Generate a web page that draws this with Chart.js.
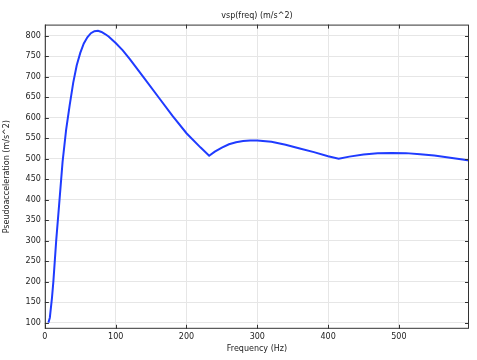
<!DOCTYPE html>
<html>
<head>
<meta charset="utf-8">
<script src="https://cdn.jsdelivr.net/npm/chart.js@4.4.1/dist/chart.umd.min.js"></script>
<style>
  html, body { margin: 0; padding: 0; background: #fff; }
  #wrap { width: 477px; height: 360px; }
</style>
</head>
<body>
<div id="wrap"><canvas id="vspChart"></canvas></div>
<script>
        // Values
        const freq = [5, 7, 10, 12, 16, 20, 25, 30, 35, 40, 45, 50, 55, 60, 65, 70, 75, 80, 85, 90, 100, 110, 120, 140, 160, 180, 200, 220, 232, 240, 250, 260, 270, 280, 290, 300, 320, 340, 360, 380, 400, 415, 430, 450, 470, 490, 510, 530, 550, 570, 590, 600];
        const vsp = [100, 112, 160, 200, 300, 385, 492, 570, 630, 685, 728, 758, 781, 796, 806, 811, 812, 809, 804, 798, 782, 764, 743, 697, 651, 605, 562, 527, 507, 517, 527, 535, 540, 543, 544.5, 544.5, 541, 534, 525, 516, 506, 500, 505, 510, 513, 514, 513.5, 511, 507.5, 503, 498, 495];

        const xTicks = [0, 100, 200, 300, 400, 500];

        // Frame around the plot area with inward tick marks
        const framePlugin = {
            id: 'frame',
            afterDraw(chart) {
                const { ctx, chartArea: a, scales } = chart;
                ctx.save();
                ctx.strokeStyle = '#333';
                ctx.lineWidth = 1;
                ctx.strokeRect(a.left + 0.5, a.top + 0.5, a.right - a.left - 1, a.bottom - a.top - 1);
                ctx.beginPath();
                scales.x.ticks.forEach(t => {
                    const px = Math.round(scales.x.getPixelForValue(t.value)) + 0.5;
                    ctx.moveTo(px, a.bottom); ctx.lineTo(px, a.bottom - 4);
                    ctx.moveTo(px, a.top); ctx.lineTo(px, a.top + 4);
                });
                scales.y.ticks.forEach(t => {
                    const py = Math.round(scales.y.getPixelForValue(t.value)) + 0.5;
                    ctx.moveTo(a.left, py); ctx.lineTo(a.left + 4, py);
                    ctx.moveTo(a.right, py); ctx.lineTo(a.right - 4, py);
                });
                ctx.stroke();
                ctx.restore();
            }
        };

        Chart.defaults.font.family = '"DejaVu Sans", sans-serif';
        Chart.defaults.font.size = 8;
        Chart.defaults.color = '#222';

        const ctx = document.getElementById('vspChart').getContext('2d');
        const vspChart = new Chart(ctx, {
            type: 'line',
            data: {
                datasets: [{
                    label: 'vsp(freq)',
                    data: freq.map((f, i) => ({ x: f, y: vsp[i] })),
                    borderColor: '#1f3bff',
                    borderWidth: 2,
                    pointRadius: 0,
                    tension: 0,
                    fill: false
                }]
            },
            options: {
                responsive: true,
                maintainAspectRatio: false,
                animation: false,
                layout: {
                    padding: { left: 2, right: 8, top: 0, bottom: 6 }
                },
                plugins: {
                    legend: { display: false },
                    tooltip: { enabled: false },
                    title: {
                        display: true,
                        fullSize: false,
                        text: 'vsp(freq) (m/s^2)',
                        font: { size: 8, weight: 'normal' },
                        padding: { top: 11, bottom: 4 }
                    }
                },
                scales: {
                    x: {
                        type: 'linear',
                        min: 0,
                        max: 599,
                        border: { display: false },
                        grid: { color: '#e6e6e6', drawTicks: false },
                        afterBuildTicks: scale => { scale.ticks = xTicks.map(v => ({ value: v })); },
                        ticks: { padding: 3, maxRotation: 0 },
                        title: {
                            display: true,
                            text: 'Frequency (Hz)',
                            padding: { top: 0, bottom: 0 }
                        }
                    },
                    y: {
                        type: 'linear',
                        min: 85,
                        max: 827,
                        border: { display: false },
                        grid: { color: '#e6e6e6', drawTicks: false },
                        ticks: { stepSize: 50, includeBounds: false, padding: 4 },
                        title: {
                            display: true,
                            text: 'Pseudoacceleration (m/s^2)',
                            padding: { top: 0, bottom: 10 }
                        }
                    }
                }
            },
            plugins: [framePlugin]
        });
</script>
</body>
</html>
